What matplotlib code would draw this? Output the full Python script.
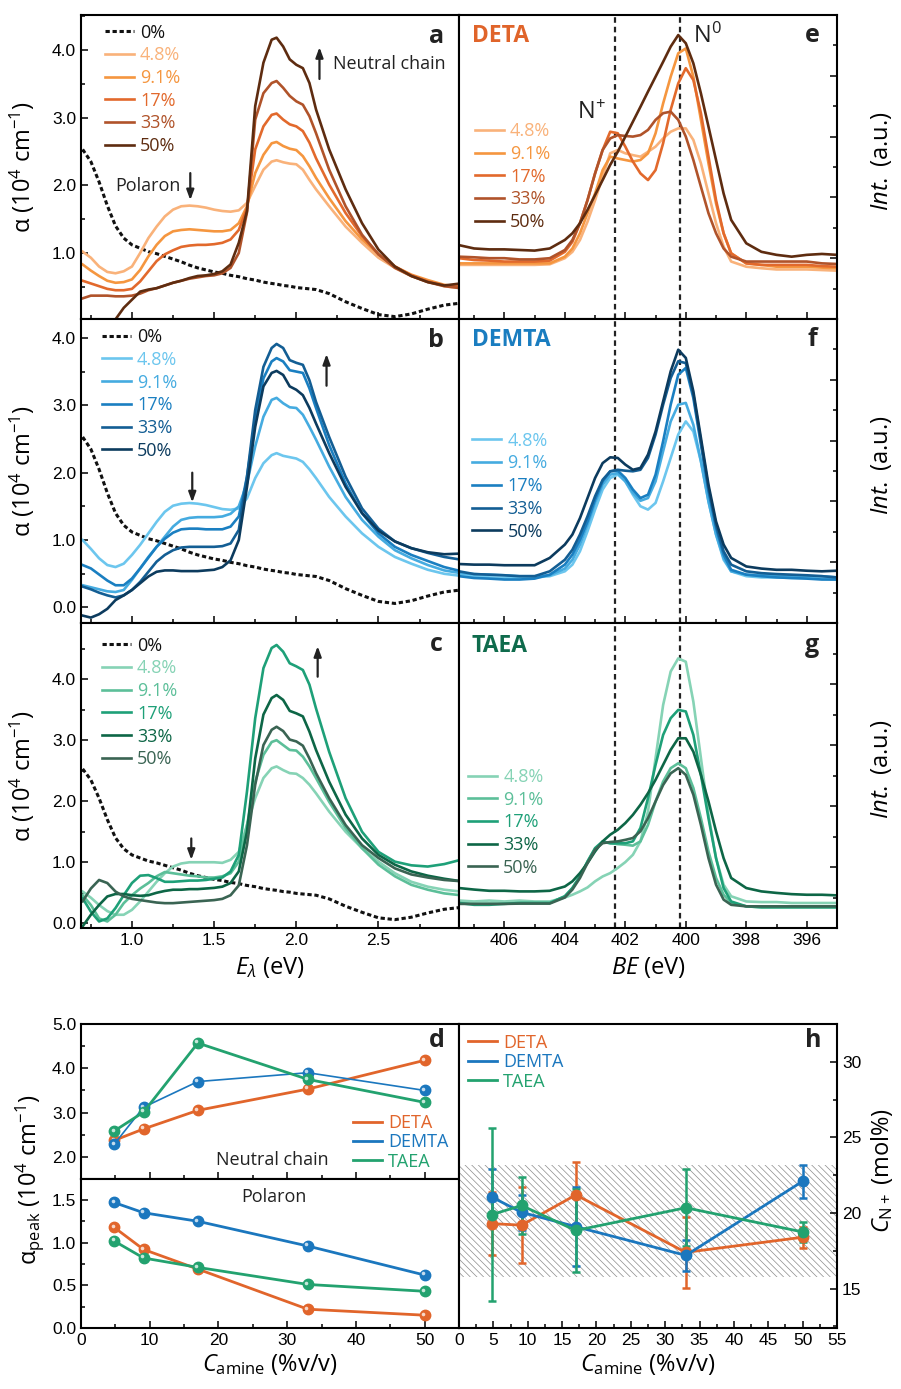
import matplotlib
matplotlib.use("Agg")
import matplotlib.pyplot as plt
import matplotlib.transforms as mtransforms
from matplotlib.lines import Line2D
from matplotlib.ticker import MultipleLocator, FormatStrFormatter

plt.rcParams['font.family'] = ['Open Sans', 'DejaVu Sans']
plt.rcParams['mathtext.fontset'] = 'custom'
plt.rcParams['mathtext.rm'] = 'Open Sans'
plt.rcParams['mathtext.it'] = 'Open Sans:italic'
plt.rcParams['mathtext.bf'] = 'Open Sans:bold'
plt.rcParams['hatch.linewidth'] = 0.5
plt.rcParams['axes.linewidth'] = 1.5

# ---------------- data ----------------
conc_labels = ['4.8%', '9.1%', '17%', '33%', '50%']

# UV-vis absorption (10^4 cm^-1) vs photon energy (eV)
E_UV = [0.70, 0.75, 0.80, 0.85, 0.90, 0.95, 1.00, 1.05, 1.10, 1.15, 1.20, 1.25, 1.30, 1.35,
        1.40, 1.45, 1.50, 1.55, 1.60, 1.65, 1.70, 1.75, 1.80, 1.85, 1.88, 1.92, 1.96, 2.00,
        2.04, 2.08, 2.12, 2.20, 2.30, 2.40, 2.50, 2.60, 2.70, 2.80, 2.90, 3.00]
alpha_0 = [2.53, 2.35, 2.05, 1.70, 1.40, 1.22, 1.12, 1.07, 1.02, 0.99, 0.95, 0.91, 0.87, 0.82,
           0.78, 0.75, 0.72, 0.70, 0.67, 0.65, 0.62, 0.60, 0.57, 0.55, 0.54, 0.52, 0.51, 0.49,
           0.48, 0.47, 0.46, 0.40, 0.28, 0.18, 0.09, 0.06, 0.10, 0.17, 0.23, 0.26]

deta_uv = [
    [1.02, 0.93, 0.80, 0.72, 0.70, 0.73, 0.80, 1.00, 1.22, 1.39, 1.54, 1.64, 1.69, 1.70, 1.69, 1.67, 1.64, 1.62, 1.61, 1.63,
     1.74, 1.99, 2.23, 2.35, 2.37, 2.34, 2.32, 2.31, 2.23, 2.08, 1.94, 1.69, 1.39, 1.15, 0.93, 0.78, 0.66, 0.58, 0.51, 0.48],
    [0.83, 0.74, 0.66, 0.59, 0.56, 0.57, 0.61, 0.75, 0.95, 1.12, 1.25, 1.32, 1.34, 1.35, 1.34, 1.33, 1.32, 1.32, 1.34, 1.44,
     1.69, 2.18, 2.45, 2.62, 2.64, 2.58, 2.54, 2.52, 2.43, 2.28, 2.11, 1.81, 1.47, 1.20, 0.98, 0.80, 0.68, 0.60, 0.53, 0.50],
    [0.59, 0.55, 0.51, 0.47, 0.45, 0.45, 0.47, 0.58, 0.73, 0.88, 0.98, 1.04, 1.09, 1.11, 1.12, 1.12, 1.13, 1.15, 1.20, 1.34,
     1.66, 2.53, 2.87, 3.04, 3.06, 2.97, 2.90, 2.87, 2.80, 2.63, 2.40, 2.01, 1.59, 1.25, 0.98, 0.80, 0.67, 0.58, 0.52, 0.50],
    [0.33, 0.37, 0.37, 0.37, 0.36, 0.36, 0.37, 0.40, 0.45, 0.48, 0.52, 0.56, 0.59, 0.62, 0.64, 0.66, 0.67, 0.70, 0.78, 1.00,
     1.60, 2.97, 3.36, 3.51, 3.54, 3.44, 3.32, 3.24, 3.19, 3.02, 2.77, 2.23, 1.69, 1.27, 0.98, 0.78, 0.66, 0.57, 0.51, 0.48],
    [-0.60, -0.40, -0.25, -0.10, 0.02, 0.19, 0.31, 0.43, 0.46, 0.48, 0.52, 0.56, 0.59, 0.63, 0.66, 0.67, 0.69, 0.73, 0.83, 1.15,
     1.62, 3.17, 3.81, 4.15, 4.18, 4.05, 3.86, 3.78, 3.73, 3.51, 3.12, 2.53, 1.94, 1.44, 1.05, 0.80, 0.66, 0.57, 0.52, 0.55],
]
demta_uv = [
    [1.00, 0.87, 0.73, 0.63, 0.60, 0.65, 0.78, 0.93, 1.10, 1.27, 1.42, 1.51, 1.54, 1.55, 1.54, 1.52, 1.49, 1.46, 1.45, 1.47,
     1.62, 1.92, 2.14, 2.26, 2.29, 2.25, 2.23, 2.21, 2.16, 2.05, 1.92, 1.64, 1.35, 1.10, 0.90, 0.75, 0.65, 0.56, 0.50, 0.47],
    [0.33, 0.30, 0.27, 0.24, 0.23, 0.26, 0.41, 0.58, 0.75, 0.90, 1.05, 1.20, 1.30, 1.33, 1.34, 1.34, 1.34, 1.35, 1.39, 1.50,
     1.84, 2.39, 2.83, 3.08, 3.11, 3.03, 2.97, 2.96, 2.86, 2.68, 2.49, 2.09, 1.64, 1.30, 1.05, 0.85, 0.73, 0.63, 0.55, 0.51],
    [0.63, 0.58, 0.49, 0.40, 0.33, 0.33, 0.43, 0.58, 0.74, 0.90, 1.02, 1.11, 1.16, 1.17, 1.17, 1.16, 1.16, 1.16, 1.20, 1.35,
     1.94, 2.78, 3.40, 3.65, 3.70, 3.65, 3.52, 3.50, 3.48, 3.25, 2.96, 2.41, 1.84, 1.40, 1.10, 0.90, 0.78, 0.69, 0.60, 0.54],
    [0.31, 0.27, 0.22, 0.18, 0.15, 0.18, 0.26, 0.38, 0.53, 0.68, 0.78, 0.85, 0.89, 0.90, 0.90, 0.90, 0.90, 0.91, 0.95, 1.15,
     1.94, 2.93, 3.57, 3.85, 3.91, 3.85, 3.67, 3.63, 3.60, 3.37, 3.05, 2.53, 1.94, 1.47, 1.17, 0.98, 0.88, 0.81, 0.75, 0.71],
    [-0.12, -0.15, -0.10, -0.02, 0.11, 0.18, 0.26, 0.36, 0.46, 0.53, 0.55, 0.55, 0.54, 0.54, 0.54, 0.55, 0.56, 0.60, 0.70, 1.00,
     1.79, 2.68, 3.28, 3.48, 3.51, 3.45, 3.28, 3.23, 3.15, 2.96, 2.73, 2.29, 1.79, 1.40, 1.14, 0.98, 0.88, 0.82, 0.79, 0.80],
]
taea_uv = [
    [0.52, 0.42, 0.30, 0.20, 0.14, 0.14, 0.22, 0.36, 0.52, 0.68, 0.82, 0.93, 0.98, 1.00, 1.00, 1.00, 1.00, 0.99, 1.04, 1.17,
     1.61, 2.05, 2.38, 2.54, 2.57, 2.51, 2.46, 2.45, 2.38, 2.27, 2.13, 1.83, 1.50, 1.23, 1.01, 0.82, 0.68, 0.60, 0.55, 0.52],
    [0.46, 0.30, 0.08, 0.03, 0.14, 0.33, 0.46, 0.57, 0.66, 0.77, 0.84, 0.82, 0.80, 0.78, 0.77, 0.75, 0.75, 0.77, 0.82, 1.01,
     1.61, 2.32, 2.76, 2.97, 3.00, 2.92, 2.84, 2.83, 2.73, 2.57, 2.38, 1.99, 1.56, 1.23, 0.96, 0.77, 0.63, 0.55, 0.49, 0.46],
    [0.41, 0.19, 0.03, 0.08, 0.25, 0.46, 0.66, 0.78, 0.79, 0.74, 0.68, 0.68, 0.69, 0.70, 0.70, 0.71, 0.73, 0.75, 0.85, 1.12,
     2.16, 3.36, 4.18, 4.51, 4.56, 4.45, 4.26, 4.21, 4.15, 3.91, 3.52, 2.81, 2.05, 1.50, 1.17, 1.01, 0.95, 0.93, 0.97, 1.04],
    [-0.05, 0.14, 0.30, 0.44, 0.48, 0.48, 0.46, 0.45, 0.46, 0.50, 0.53, 0.55, 0.55, 0.56, 0.56, 0.57, 0.58, 0.60, 0.66, 0.85,
     1.50, 2.70, 3.42, 3.69, 3.74, 3.66, 3.48, 3.44, 3.39, 3.14, 2.84, 2.32, 1.78, 1.39, 1.12, 0.96, 0.85, 0.78, 0.73, 0.69],
    [0.36, 0.57, 0.71, 0.66, 0.52, 0.44, 0.40, 0.38, 0.36, 0.34, 0.33, 0.33, 0.34, 0.35, 0.36, 0.37, 0.38, 0.40, 0.46, 0.62,
     1.28, 2.27, 2.92, 3.17, 3.22, 3.15, 3.01, 2.98, 2.91, 2.70, 2.46, 2.05, 1.61, 1.28, 1.07, 0.90, 0.80, 0.75, 0.71, 0.69],
]

# XPS N 1s intensity (a.u., normalised to panel height) vs binding energy (eV)
BE = [407.5, 407.0, 406.5, 406.0, 405.5, 405.0, 404.5, 404.0, 403.75, 403.5, 403.25, 403.0, 402.75,
      402.5, 402.25, 402.0, 401.75, 401.5, 401.25, 401.0, 400.75, 400.5, 400.25, 400.0, 399.75,
      399.5, 399.25, 399.0, 398.75, 398.5, 398.0, 397.5, 397.0, 396.5, 396.0, 395.5, 395.0]
BE_NPLUS = 402.35
BE_N0 = 400.18

deta_xps = [
    [0.178, 0.178, 0.178, 0.178, 0.178, 0.178, 0.180, 0.200, 0.221, 0.260, 0.320, 0.391, 0.468, 0.545, 0.556, 0.545, 0.539,
     0.534, 0.550, 0.567, 0.594, 0.616, 0.627, 0.627, 0.589, 0.512, 0.413, 0.315, 0.238, 0.189, 0.172, 0.167, 0.163, 0.163,
     0.163, 0.161, 0.159],
    [0.183, 0.183, 0.183, 0.183, 0.183, 0.183, 0.183, 0.205, 0.232, 0.282, 0.348, 0.413, 0.490, 0.534, 0.528, 0.523, 0.518,
     0.523, 0.545, 0.611, 0.709, 0.797, 0.874, 0.890, 0.797, 0.655, 0.512, 0.380, 0.282, 0.216, 0.183, 0.178, 0.172, 0.172,
     0.172, 0.169, 0.167],
    [0.200, 0.194, 0.192, 0.189, 0.189, 0.189, 0.192, 0.221, 0.254, 0.315, 0.391, 0.479, 0.556, 0.616, 0.611, 0.567, 0.518,
     0.479, 0.457, 0.490, 0.578, 0.688, 0.775, 0.825, 0.786, 0.677, 0.534, 0.391, 0.282, 0.216, 0.183, 0.178, 0.178, 0.178,
     0.178, 0.174, 0.172],
    [0.205, 0.203, 0.200, 0.200, 0.196, 0.196, 0.200, 0.227, 0.260, 0.315, 0.391, 0.479, 0.556, 0.594, 0.605, 0.602, 0.600,
     0.605, 0.622, 0.655, 0.677, 0.682, 0.655, 0.600, 0.523, 0.435, 0.348, 0.282, 0.232, 0.205, 0.189, 0.189, 0.189, 0.189,
     0.189, 0.183, 0.181],
    [0.243, 0.232, 0.229, 0.229, 0.227, 0.225, 0.232, 0.260, 0.282, 0.315, 0.359, 0.408, 0.457, 0.507, 0.550, 0.600, 0.649,
     0.698, 0.748, 0.797, 0.846, 0.896, 0.934, 0.907, 0.841, 0.742, 0.633, 0.523, 0.413, 0.326, 0.249, 0.221, 0.211, 0.205,
     0.211, 0.214, 0.211],
]
demta_xps = [
    [0.157, 0.154, 0.150, 0.148, 0.148, 0.150, 0.154, 0.170, 0.192, 0.236, 0.302, 0.373, 0.439, 0.477, 0.488, 0.466, 0.422,
     0.384, 0.373, 0.395, 0.466, 0.543, 0.620, 0.663, 0.630, 0.532, 0.400, 0.291, 0.208, 0.170, 0.154, 0.150, 0.150, 0.148,
     0.148, 0.146, 0.143],
    [0.164, 0.161, 0.159, 0.157, 0.154, 0.154, 0.157, 0.179, 0.208, 0.258, 0.323, 0.395, 0.455, 0.488, 0.493, 0.466, 0.428,
     0.402, 0.411, 0.466, 0.565, 0.663, 0.718, 0.724, 0.652, 0.532, 0.400, 0.291, 0.214, 0.170, 0.159, 0.157, 0.157, 0.154,
     0.154, 0.154, 0.150],
    [0.154, 0.148, 0.146, 0.143, 0.143, 0.146, 0.159, 0.192, 0.225, 0.274, 0.334, 0.406, 0.466, 0.499, 0.501, 0.477, 0.439,
     0.411, 0.422, 0.488, 0.598, 0.718, 0.817, 0.839, 0.740, 0.587, 0.433, 0.313, 0.225, 0.175, 0.159, 0.154, 0.150, 0.148,
     0.146, 0.143, 0.143],
    [0.170, 0.161, 0.159, 0.157, 0.154, 0.154, 0.170, 0.208, 0.241, 0.291, 0.351, 0.417, 0.471, 0.499, 0.504, 0.501, 0.499,
     0.504, 0.543, 0.620, 0.718, 0.806, 0.861, 0.855, 0.751, 0.598, 0.444, 0.323, 0.236, 0.192, 0.170, 0.164, 0.161, 0.159,
     0.157, 0.154, 0.150],
    [0.194, 0.192, 0.192, 0.190, 0.190, 0.190, 0.214, 0.258, 0.291, 0.345, 0.411, 0.477, 0.526, 0.545, 0.543, 0.521, 0.504,
     0.510, 0.554, 0.630, 0.729, 0.828, 0.899, 0.872, 0.762, 0.609, 0.455, 0.334, 0.258, 0.214, 0.186, 0.179, 0.175, 0.175,
     0.172, 0.170, 0.172],
]
taea_xps = [
    [0.090, 0.087, 0.090, 0.087, 0.090, 0.087, 0.087, 0.100, 0.109, 0.120, 0.133, 0.153, 0.169, 0.180, 0.197, 0.216, 0.240,
     0.284, 0.382, 0.557, 0.731, 0.841, 0.884, 0.873, 0.742, 0.557, 0.371, 0.229, 0.142, 0.104, 0.087, 0.085, 0.085, 0.082,
     0.082, 0.082, 0.082],
    [0.082, 0.079, 0.080, 0.080, 0.082, 0.082, 0.082, 0.104, 0.131, 0.169, 0.218, 0.260, 0.282, 0.278, 0.275, 0.273, 0.270,
     0.284, 0.338, 0.415, 0.480, 0.524, 0.540, 0.524, 0.459, 0.360, 0.251, 0.164, 0.109, 0.082, 0.071, 0.068, 0.068, 0.068,
     0.068, 0.068, 0.068],
    [0.082, 0.076, 0.076, 0.079, 0.082, 0.082, 0.082, 0.104, 0.131, 0.169, 0.218, 0.262, 0.284, 0.278, 0.278, 0.278, 0.284,
     0.328, 0.426, 0.535, 0.633, 0.688, 0.715, 0.710, 0.633, 0.502, 0.360, 0.229, 0.131, 0.087, 0.071, 0.068, 0.068, 0.068,
     0.068, 0.068, 0.068],
    [0.131, 0.126, 0.122, 0.122, 0.120, 0.120, 0.122, 0.136, 0.153, 0.180, 0.213, 0.251, 0.284, 0.306, 0.322, 0.344, 0.371,
     0.404, 0.442, 0.486, 0.535, 0.584, 0.622, 0.622, 0.578, 0.502, 0.415, 0.317, 0.229, 0.164, 0.131, 0.120, 0.115, 0.111,
     0.109, 0.109, 0.107],
    [0.079, 0.079, 0.079, 0.079, 0.080, 0.080, 0.080, 0.100, 0.126, 0.164, 0.213, 0.257, 0.278, 0.282, 0.284, 0.289, 0.295,
     0.317, 0.360, 0.415, 0.469, 0.507, 0.524, 0.502, 0.437, 0.338, 0.229, 0.142, 0.093, 0.076, 0.071, 0.071, 0.071, 0.071,
     0.071, 0.071, 0.071],
]

# peak absorption and N+ fraction vs amine concentration
C_AMINE = [4.8, 9.1, 17, 33, 50]
amines = ['DETA', 'DEMTA', 'TAEA']
neutral_peak = {'DETA': [2.37, 2.63, 3.05, 3.53, 4.18],
                'DEMTA': [2.28, 3.12, 3.70, 3.90, 3.50],
                'TAEA': [2.58, 3.01, 4.57, 3.75, 3.23]}
polaron_peak = {'DETA': [1.18, 0.92, 0.69, 0.22, 0.15],
                'DEMTA': [1.47, 1.35, 1.25, 0.96, 0.62],
                'TAEA': [1.02, 0.82, 0.71, 0.51, 0.43]}
n_plus = {'DETA': [19.3, 19.2, 21.2, 17.4, 18.4],
          'DEMTA': [21.05, 20.05, 19.1, 17.2, 22.1],
          'TAEA': [19.9, 20.5, 18.85, 20.35, 18.75]}
n_plus_err = {'DETA': [2.1, 2.5, 2.2, 2.35, 0.7],
              'DEMTA': [1.85, 1.15, 2.6, 1.0, 1.1],
              'TAEA': [5.7, 1.9, 2.75, 2.55, 0.65]}
BAND_LO, BAND_HI = 15.8, 23.2

# ---------------- style ----------------
main_col = {'DETA': '#E1652B', 'DEMTA': '#1B77BE', 'TAEA': '#23A26F'}
title_col = {'DETA': '#E0642A', 'DEMTA': '#1A7DC0', 'TAEA': '#0F6B4C'}
pal = {'DETA': ['#F9B27A', '#F5963F', '#E2692C', '#B0532A', '#5E2C10'],
       'DEMTA': ['#6CC6EE', '#45ABE0', '#1A7FC1', '#135E94', '#0C3B5E'],
       'TAEA': ['#86D3B5', '#5CBF99', '#1EA078', '#0D6646', '#3A6453']}
TICK_FONT = 'Liberation Sans'
LEG_KW = dict(loc='upper left', frameon=False, fontsize=13, handlelength=1.6, handletextpad=0.35,
              borderpad=0, borderaxespad=0, labelcolor='linecolor')

W, H = 901, 1389
fig = plt.figure(figsize=(W / 100, H / 100), dpi=100)


def rect(x0, y0, x1, y1):
    return [x0 / W, 1 - y1 / H, (x1 - x0) / W, (y1 - y0) / H]


def style_ticks(ax):
    ax.tick_params(which='both', direction='in', labelsize=12.5, labelfontfamily=TICK_FONT, width=1.1)
    ax.tick_params(which='major', length=5)
    ax.tick_params(which='minor', length=2.8)
    for s in ax.spines.values():
        s.set_linewidth(1.5)


def arrow(ax, tail, head):
    ax.annotate('', xy=head, xytext=tail,
                arrowprops=dict(arrowstyle='-|>,head_width=0.22,head_length=0.6', color='#222222',
                                lw=1.6, shrinkA=0, shrinkB=0))


def letter(ax, x, y, s):
    ax.text(x, y, s, transform=ax.transAxes, ha='center', va='baseline', fontsize=18,
            fontweight='bold', color='#222222')


ax_a = fig.add_axes(rect(81, 15, 459, 319))
ax_b = fig.add_axes(rect(81, 319, 459, 623))
ax_c = fig.add_axes(rect(81, 623, 459, 928))
ax_e = fig.add_axes(rect(459, 15, 837, 319))
ax_f = fig.add_axes(rect(459, 319, 837, 623))
ax_g = fig.add_axes(rect(459, 623, 837, 928))
ax_d1 = fig.add_axes(rect(81, 1024, 459, 1179))
ax_d2 = fig.add_axes(rect(81, 1179, 459, 1328))
ax_h = fig.add_axes(rect(459, 1024, 837, 1328))

# ---- UV-vis panels a, b, c ----
uv_setup = [
    (ax_a, 'DETA', deta_uv, (0.025, 4.515), 'a', 0.063, 0.972),
    (ax_b, 'DEMTA', demta_uv, (-0.23, 4.28), 'b', 0.055, 0.970),
    (ax_c, 'TAEA', taea_uv, (-0.077, 4.92), 'c', 0.055, 0.955),
]
for ax, am, curves, ylim, let, lx, ly in uv_setup:
    ax.plot(E_UV, alpha_0, color='#111111', ls=(0, (1.4, 0.9)), lw=2.2, label='0%')
    for lab, y, col in zip(conc_labels, curves, pal[am]):
        ax.plot(E_UV, y, color=col, lw=1.9, label=lab)
    ax.set_xlim(0.69, 2.99)
    ax.set_ylim(*ylim)
    ax.xaxis.set_major_locator(MultipleLocator(0.5))
    ax.xaxis.set_minor_locator(MultipleLocator(0.25))
    ax.yaxis.set_major_locator(MultipleLocator(1.0))
    ax.yaxis.set_minor_locator(MultipleLocator(0.5))
    ax.xaxis.set_major_formatter(FormatStrFormatter('%.1f'))
    ax.yaxis.set_major_formatter(FormatStrFormatter('%.1f'))
    style_ticks(ax)
    if ax is not ax_c:
        ax.tick_params(labelbottom=False)
    ax.legend(bbox_to_anchor=(lx, ly), labelspacing=0.26, **LEG_KW)
    letter(ax, 0.94, 0.907, let)
    ax.yaxis.set_label_coords(-0.116, 0.5)
    ax.set_ylabel('α (10$^4$ cm$^{-1}$)', fontsize=17)

ax_c.set_xlabel(r'$E_\lambda$ (eV)', fontsize=17, labelpad=5)

arrow(ax_a, (1.355, 2.18), (1.355, 1.78))
ax_a.text(1.294, 1.92, 'Polaron', ha='right', va='baseline', fontsize=13, color='#222222')
arrow(ax_a, (2.141, 3.57), (2.141, 4.04))
ax_a.text(2.226, 3.72, 'Neutral chain', ha='left', va='baseline', fontsize=13, color='#222222')
arrow(ax_b, (1.367, 2.00), (1.367, 1.56))
arrow(ax_b, (2.184, 3.29), (2.184, 3.76))
arrow(ax_c, (1.361, 1.39), (1.361, 1.04))
arrow(ax_c, (2.130, 4.04), (2.130, 4.54))

# ---- XPS panels e, f, g ----
xps_setup = [
    (ax_e, 'DETA', deta_xps, 'e', 0.042, 0.647, 0.911),
    (ax_f, 'DEMTA', demta_xps, 'f', 0.035, 0.629, 0.911),
    (ax_g, 'TAEA', taea_xps, 'g', 0.024, 0.525, 0.905),
]
for ax, am, curves, let, lx, ly, ty in xps_setup:
    for lab, y, col in zip(conc_labels, curves, pal[am]):
        ax.plot(BE, y, color=col, lw=1.9, label=lab)
    ax.axvline(BE_NPLUS, color='#222222', ls=(0, (2.5, 1.8)), lw=1.6, zorder=0)
    ax.axvline(BE_N0, color='#222222', ls=(0, (2.5, 1.8)), lw=1.6, zorder=0)
    ax.set_xlim(407.5, 395.0)
    ax.set_ylim(0, 1)
    ax.xaxis.set_major_locator(MultipleLocator(2))
    ax.xaxis.set_minor_locator(MultipleLocator(1))
    ax.yaxis.set_major_locator(MultipleLocator(0.2))
    ax.yaxis.set_minor_locator(MultipleLocator(0.1))
    ax.yaxis.tick_right()
    style_ticks(ax)
    ax.tick_params(labelright=False, labelleft=False, left=False)
    if ax is not ax_g:
        ax.tick_params(labelbottom=False)
    ax.legend(bbox_to_anchor=(lx, ly), labelspacing=0.26, **LEG_KW)
    ax.text(0.034, ty, am, transform=ax.transAxes, ha='left', va='baseline', fontsize=16.5,
            fontweight='bold', color=title_col[am])
    letter(ax, 0.935, ty, let)
    bb = ax.get_position()
    fig.text(882 / W, bb.y0 + bb.height / 2 + 6 / H, '$Int.$ (a.u.)', rotation=90,
             ha='center', va='center', fontsize=17)

ax_e.text(403.11, 0.678, 'N$^{+}$', ha='center', va='center', fontsize=17, color='#222222')
ax_e.text(399.29, 0.929, 'N$^{0}$', ha='center', va='center', fontsize=17, color='#222222')
ax_g.set_xlabel('$BE$ (eV)', fontsize=17, labelpad=5)

# ---- panel d ----
for ax, data, lw_demta in ((ax_d1, neutral_peak, 1.2), (ax_d2, polaron_peak, 2.0)):
    for am in amines:
        lw = lw_demta if am == 'DEMTA' else 2.0
        ax.plot(C_AMINE, data[am], color=main_col[am], lw=lw, marker='o', ms=7.5,
                mec=main_col[am])
        hl = mtransforms.offset_copy(ax.transData, fig=fig, x=-1.0, y=1.2, units='points')
        ax.plot(C_AMINE, data[am], ls='none', marker='o', ms=2.6, mfc='white', mec='none',
                alpha=0.75, transform=hl)
    ax.set_xlim(0, 55)
    ax.xaxis.set_major_locator(MultipleLocator(10))
    ax.xaxis.set_minor_locator(MultipleLocator(5))
    ax.yaxis.set_major_formatter(FormatStrFormatter('%.1f'))
    style_ticks(ax)

amine_handles = [Line2D([], [], color=main_col[am], lw=2.0) for am in amines]

ax_d1.set_ylim(1.5, 5.0)
ax_d1.yaxis.set_major_locator(MultipleLocator(1.0))
ax_d1.yaxis.set_minor_locator(MultipleLocator(0.5))
ax_d1.tick_params(labelbottom=False)
ax_d2.set_ylim(0, 1.745)
ax_d2.yaxis.set_major_locator(MultipleLocator(0.5))
ax_d2.yaxis.set_minor_locator(MultipleLocator(0.25))
ax_d1.legend(amine_handles, amines, bbox_to_anchor=(0.72, 0.42), labelspacing=0.08, **LEG_KW)
letter(ax_d1, 0.942, 0.852, 'd')
ax_d1.text(27.9, 1.82, 'Neutral chain', ha='center', va='baseline', fontsize=13, color='#222222')
ax_d2.text(28.1, 1.48, 'Polaron', ha='center', va='baseline', fontsize=13, color='#222222')
ax_d2.set_xlabel('$C_{\\mathrm{amine}}$ (%v/v)', fontsize=17, labelpad=3)
fig.text(30 / W, 1 - 1180 / H, 'α$_{\\mathrm{peak}}$ (10$^4$ cm$^{-1}$)', rotation=90,
         ha='center', va='center', fontsize=17)

# ---- panel h ----
ax_h.axhspan(BAND_LO, BAND_HI, facecolor='none', edgecolor='#8c8c8c', hatch='\\' * 5, lw=0, zorder=0)
for am in amines:
    ax_h.errorbar(C_AMINE, n_plus[am], yerr=n_plus_err[am], color=main_col[am], lw=2.0,
                  marker='o', ms=7.5, capsize=3, capthick=1.8, elinewidth=1.8)
    hl = mtransforms.offset_copy(ax_h.transData, fig=fig, x=-1.0, y=1.2, units='points')
    ax_h.plot(C_AMINE, n_plus[am], ls='none', marker='o', ms=2.6, mfc='white', mec='none',
              alpha=0.75, transform=hl)
ax_h.set_xlim(0, 55)
ax_h.set_ylim(12.4, 32.5)
ax_h.xaxis.set_major_locator(MultipleLocator(5))
ax_h.xaxis.set_minor_locator(MultipleLocator(2.5))
ax_h.yaxis.set_major_locator(MultipleLocator(5))
ax_h.yaxis.set_minor_locator(MultipleLocator(2.5))
ax_h.yaxis.tick_right()
style_ticks(ax_h)
ax_h.tick_params(left=False)
ax_h.legend(amine_handles, amines, bbox_to_anchor=(0.024, 0.968), labelspacing=0.08, **LEG_KW)
letter(ax_h, 0.937, 0.924, 'h')
ax_h.set_xlabel('$C_{\\mathrm{amine}}$ (%v/v)', fontsize=17, labelpad=3)
fig.text(882 / W, 1 - 1170 / H, '$C_{\\mathrm{N+}}$ (mol%)', rotation=90,
         ha='center', va='center', fontsize=17)

fig.savefig('out.png', dpi=100)
